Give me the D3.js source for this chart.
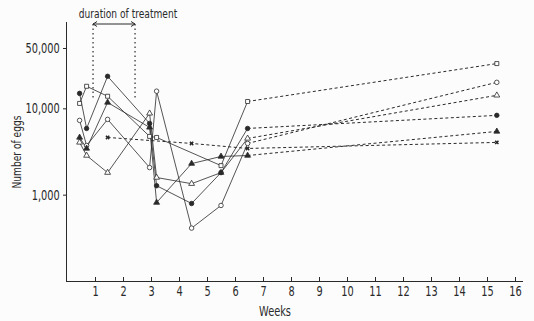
<!DOCTYPE html>
<html><head><meta charset="utf-8">
<script src="https://cdn.jsdelivr.net/npm/d3@7"></script>
<style>
body{margin:0;background:#fcfcfc}
text{font-family:"DejaVu Sans",sans-serif;fill:#2a2a2a}
</style>
</head><body><svg id="c" width="534" height="321"></svg>
<script>
// ---- data ----
const weeks = [0.45, 0.7, 1.45, 2.95, 3.2, 4.45, 5.5, 6.45, 15.35];
const openSquare   = [11400, 18000, 13800, 4730, 4600, null, 2170, 12000, 33000];
const openCircle   = [7250, 3710, 7450, 2060, 15800, 410, 750, 3920, 20000];
const openTriangle = [4030, 2840, 1800, 8750, 1580, 1340, 1800, 4480, 14150];
const filledCircle = [14900, 5850, 23500, 6690, 1270, 790, 1800, 5850, 8290];
const filledTriangle = [4600, 3430, 11700, 6010, 810, 2290, 2770, 2840, 5400];
const controlWeeks  = [1.45, 4.45, 6.45, 15.35];
const controlValues = [4600, 3920, 3430, 4030];
const xTicks = [1,2,3,4,5,6,7,8,9,10,11,12,13,14,15,16];
const yTicks = [1000, 10000, 50000];
const yTickLabels = ["1,000", "10,000", "50,000"];
const treatmentWeeks = [0.93, 2.43];
const lastMeasuredWeek = 6.45;

// ---- chart ----
const ink = "#2a2a2a";
const narrow = 0.7;
const svg = d3.select("#c");
const x = d3.scaleLinear().domain([0, 16]).range([67, 515]);
const y = d3.scaleLog().domain([100, 100000]).range([281, 22]);

function ntext(px, py, str, size, anchor, rot) {
  return svg.append("text")
    .attr("transform", `translate(${px},${py})${rot ? ` rotate(${rot})` : ""} scale(${narrow},1)`)
    .attr("text-anchor", anchor || "middle").attr("font-size", size).text(str);
}

// axes
const xAxis = d3.axisBottom(x).tickValues(xTicks).tickSize(-4).tickPadding(7).tickFormat(d3.format("d"));
const gx = svg.append("g").attr("transform", "translate(0,281)").call(xAxis);
gx.select(".domain").attr("d", "M66,0.5H523");
const yAxis = d3.axisLeft(y).tickValues(yTicks).tickSize(3).tickPadding(6)
  .tickFormat(d => yTickLabels[yTicks.indexOf(d)]);
const gy = svg.append("g").attr("transform", "translate(66,0)").call(yAxis);
gy.select(".domain").attr("d", "M0.5,22V281");
svg.selectAll(".domain, .tick line").attr("stroke", ink).attr("stroke-width", 1);
gx.selectAll("text").attr("font-size", 14).attr("fill", ink).attr("dy", "0.55em")
  .attr("font-family", "DejaVu Sans").attr("transform", `scale(${narrow},1)`);
gy.selectAll("text").attr("font-size", 14).attr("fill", ink)
  .attr("font-family", "DejaVu Sans").attr("transform", `scale(${narrow},1)`).attr("x", -9);

// axis titles
ntext(275, 316, "Weeks", 14);
ntext(21, 152, "Number of eggs", 13, "middle", -90);

// treatment bracket
const t0 = x(treatmentWeeks[0]), t1 = x(treatmentWeeks[1]);
ntext(t0 + 35, 18, "duration of treatment", 13);
svg.append("line").attr("x1", t0).attr("x2", t1).attr("y1", 24).attr("y2", 24).attr("stroke", ink).attr("stroke-width", 1);
[t0, t1].forEach((tx, i) => {
  const s = i === 0 ? 1 : -1;
  svg.append("path").attr("d", `M${tx + s*4},21.5L${tx},24L${tx + s*4},26.5`).attr("fill", "none").attr("stroke", ink).attr("stroke-width", 1);
  svg.append("line").attr("x1", tx).attr("x2", tx).attr("y1", 24).attr("y2", 100)
    .attr("stroke", ink).attr("stroke-width", 1.2).attr("stroke-dasharray", "1.5,3");
});

// series
const series = [
  {values: openSquare, sym: d3.symbolSquare, size: 16, fill: "#fff"},
  {values: openCircle, sym: d3.symbolCircle, size: 16, fill: "#fff"},
  {values: openTriangle, sym: d3.symbolTriangle, size: 15, fill: "#fff"},
  {values: filledCircle, sym: d3.symbolCircle, size: 16, fill: ink},
  {values: filledTriangle, sym: d3.symbolTriangle, size: 15, fill: ink}
];
const line = d3.line().x(d => x(d[0])).y(d => y(d[1]));
const gLines = svg.append("g"), gMarks = svg.append("g");

series.forEach(s => {
  const pts = weeks.map((w, i) => [w, s.values[i]]).filter(d => d[1] != null);
  const solid = pts.filter(d => d[0] <= lastMeasuredWeek);
  const tail = pts.filter(d => d[0] >= lastMeasuredWeek);
  gLines.append("path").attr("d", line(solid)).attr("fill", "none").attr("stroke", ink).attr("stroke-width", 0.8);
  gLines.append("path").attr("d", line(tail)).attr("fill", "none").attr("stroke", ink).attr("stroke-width", 1).attr("stroke-dasharray", "3,2.5");
  gMarks.selectAll(null).data(pts).join("path")
    .attr("transform", d => `translate(${x(d[0])},${y(d[1])})`)
    .attr("d", d3.symbol().type(s.sym).size(s.size))
    .attr("fill", s.fill).attr("stroke", ink).attr("stroke-width", 0.8);
});

// control (dashed throughout)
const cpts = controlWeeks.map((w, i) => [w, controlValues[i]]);
gLines.append("path").attr("d", line(cpts)).attr("fill", "none").attr("stroke", ink).attr("stroke-width", 1).attr("stroke-dasharray", "3,2.5");
gMarks.selectAll(null).data(cpts).join("path")
  .attr("transform", d => `translate(${x(d[0])},${y(d[1])}) rotate(45)`)
  .attr("d", d3.symbol().type(d3.symbolCross).size(12))
  .attr("fill", ink).attr("stroke", "none");
</script>
</body></html>
